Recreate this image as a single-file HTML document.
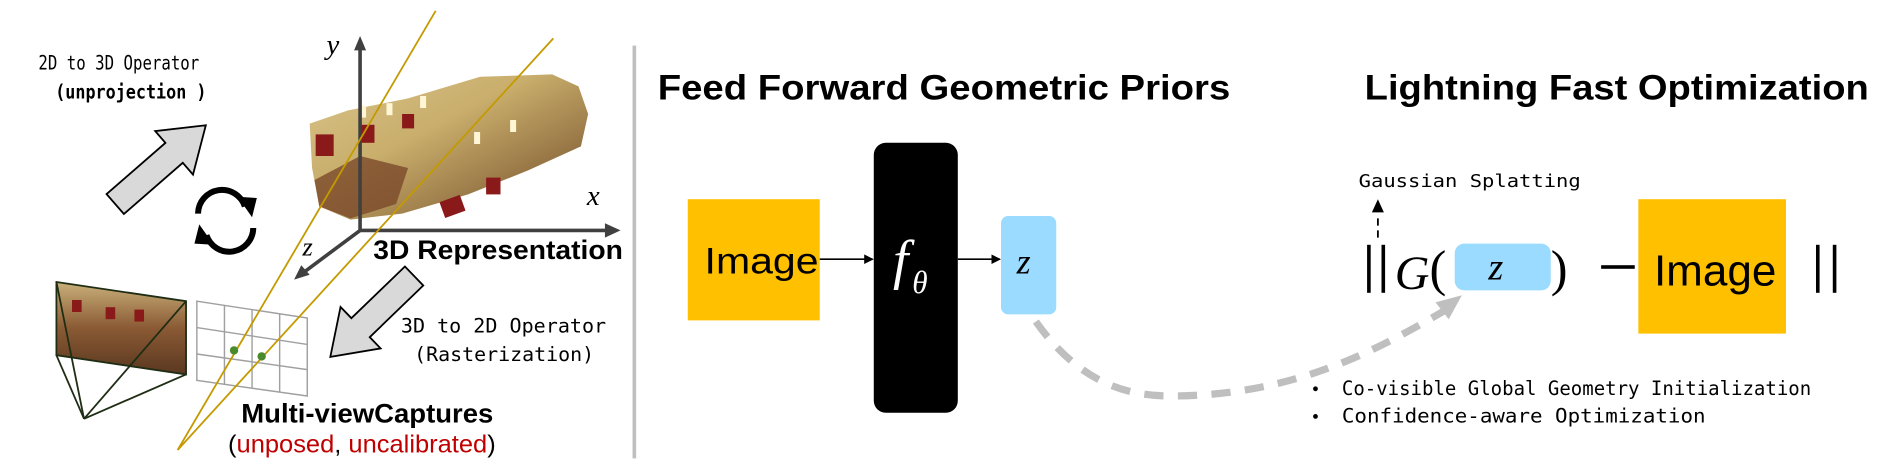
<!DOCTYPE html>
<html><head><meta charset="utf-8"><style>
html,body{margin:0;padding:0;background:#fff;}
svg{display:block;}
.mono{font-family:"DejaVu Sans Mono","Liberation Mono",monospace;}
.sans{font-family:"Liberation Sans",sans-serif;}
.serif{font-family:"Liberation Serif","DejaVu Serif",serif;font-style:italic;}
</style></head><body>
<svg width="1882" height="474" viewBox="0 0 1568 395" preserveAspectRatio="none" xmlns="http://www.w3.org/2000/svg">
<defs>
<linearGradient id="mesh" x1="0" y1="0" x2="1" y2="1">
<stop offset="0" stop-color="#d8c48a"/>
<stop offset="0.4" stop-color="#c9ae6c"/>
<stop offset="0.7" stop-color="#9b7a48"/>
<stop offset="1" stop-color="#6b4426"/>
</linearGradient>
<linearGradient id="photo" x1="0" y1="0" x2="0" y2="1">
<stop offset="0" stop-color="#c9b07a"/>
<stop offset="0.5" stop-color="#8a5a34"/>
<stop offset="1" stop-color="#5a3820"/>
</linearGradient>
<marker id="ah" markerWidth="8" markerHeight="8" refX="7" refY="4" orient="auto" markerUnits="userSpaceOnUse"><path d="M0,0 L8,4 L0,8 z" fill="#000"/></marker>
</defs>

<text class="mono" x="32" y="58" font-size="16" textLength="134" lengthAdjust="spacingAndGlyphs">2D to 3D Operator</text>
<text class="mono" x="46" y="82" font-size="16" font-weight="bold" textLength="126" lengthAdjust="spacingAndGlyphs">(unprojection )</text>

<polygon points="258,103 290,92 340,82 400,64 460,62 482,72 490,95 484,122 440,142 390,162 335,178 292,183 266,172 260,140" fill="url(#mesh)"/>
<polygon points="262,150 300,130 340,140 330,170 292,182 266,172" fill="#7a4a2a" opacity="0.8"/>
<g fill="#8a1a1a">
<rect x="263" y="112" width="15" height="18"/><rect x="300" y="104" width="12" height="15"/>
<rect x="335" y="95" width="10" height="12"/><rect x="368" y="165" width="18" height="14" transform="rotate(-20 377 172)"/>
<rect x="405" y="148" width="12" height="14"/>
</g>
<g fill="#fff6d6"><rect x="300" y="88" width="5" height="10"/><rect x="322" y="86" width="5" height="10"/><rect x="350" y="80" width="5" height="10"/><rect x="395" y="110" width="5" height="10"/><rect x="425" y="100" width="5" height="10"/></g>

<g stroke="#404040" stroke-width="3" fill="none">
<line x1="300" y1="192" x2="300" y2="40"/>
<line x1="300" y1="192" x2="505" y2="192"/>
<line x1="300" y1="192" x2="253" y2="227"/>
</g>
<polygon points="300,30 295,42 305,42" fill="#404040"/>
<polygon points="517,192 504,186 504,198" fill="#404040"/>
<polygon points="245,233 251,221 258,229" fill="#404040"/>
<text class="serif" x="272" y="45" font-size="24">y</text>
<text class="serif" x="489" y="171" font-size="24">x</text>
<text class="serif" x="252" y="213" font-size="22">z</text>

<g fill="none" stroke="#000" stroke-width="5">
<path d="M165,178 A20,20 0 0 1 204,172"/>
<path d="M211,190 A20,20 0 0 1 172,196"/>
</g>
<polygon points="198,164 214,165 210,181" fill="#000"/>
<polygon points="178,204 162,203 166,187" fill="#000"/>

<g transform="translate(96,170) rotate(-41)">
<polygon points="0,-11 65,-11 65,-24 100,0 65,24 65,11 0,11" fill="#d9d9d9" stroke="#000" stroke-width="1.5"/>
</g>
<g transform="translate(345,230) rotate(136)">
<polygon points="0,-11 62,-11 62,-24 97,0 62,24 62,11 0,11" fill="#d9d9d9" stroke="#000" stroke-width="1.5"/>
</g>

<text class="sans" x="311" y="216" font-size="22" font-weight="bold" textLength="208" lengthAdjust="spacingAndGlyphs">3D Representation</text>
<text class="mono" x="334" y="277" font-size="16" textLength="171" lengthAdjust="spacingAndGlyphs">3D to 2D Operator</text>
<text class="mono" x="345" y="301" font-size="16" textLength="150" lengthAdjust="spacingAndGlyphs">(Rasterization)</text>

<polygon points="47,235 155,251 155,312 47,296" fill="url(#photo)"/>
<g fill="#8a1a1a"><rect x="60" y="250" width="8" height="10"/><rect x="88" y="256" width="8" height="10"/><rect x="112" y="258" width="8" height="10"/></g>
<polygon points="47,235 155,251 155,312 47,296" fill="none" stroke="#1f2d14" stroke-width="1.5"/>
<g stroke="#1f2d14" stroke-width="1.5">
<line x1="70" y1="349" x2="47" y2="235"/><line x1="70" y1="349" x2="155" y2="251"/>
<line x1="70" y1="349" x2="155" y2="312"/><line x1="70" y1="349" x2="47" y2="296"/>
</g>

<g stroke="#a0a0a0" stroke-width="1.2" fill="none">
<polygon points="164,251 256,265 256,330 164,317"/>
<line x1="187" y1="254.5" x2="187" y2="320"/><line x1="210" y1="258" x2="210" y2="323.5"/><line x1="233" y1="261.5" x2="233" y2="327"/>
<line x1="164" y1="273" x2="256" y2="287"/><line x1="164" y1="295" x2="256" y2="308"/>
</g>

<g stroke="#c49a00" stroke-width="1.5">
<line x1="363" y1="9" x2="148" y2="375"/>
<line x1="461" y1="32" x2="148" y2="375"/>
</g>
<circle cx="195" cy="292" r="3.5" fill="#4a8a2a"/>
<circle cx="218" cy="297" r="3.5" fill="#4a8a2a"/>

<text class="sans" x="201" y="352" font-size="22" font-weight="bold" textLength="210" lengthAdjust="spacingAndGlyphs">Multi-viewCaptures</text>
<text class="sans" x="190" y="377" font-size="21" textLength="223" lengthAdjust="spacingAndGlyphs"><tspan fill="#000">(</tspan><tspan fill="#c00000">unposed</tspan><tspan fill="#000">, </tspan><tspan fill="#c00000">uncalibrated</tspan><tspan fill="#000">)</tspan></text>

<rect x="527" y="38" width="3" height="344" fill="#bfbfbf"/>

<text class="sans" x="548" y="83" font-size="29" font-weight="bold" textLength="477" lengthAdjust="spacingAndGlyphs">Feed Forward Geometric Priors</text>
<rect x="573" y="166" width="110" height="101" fill="#ffc000"/>
<text class="sans" x="587" y="228" font-size="31" textLength="95" lengthAdjust="spacingAndGlyphs">Image</text>
<line x1="683" y1="216" x2="727" y2="216" stroke="#000" stroke-width="1.3" marker-end="url(#ah)"/>
<rect x="728" y="119" width="70" height="225" rx="10" fill="#000"/>
<text class="serif" x="744" y="232" font-size="46" fill="#fff">f</text>
<text class="serif" x="760" y="244" font-size="26" fill="#fff">θ</text>
<line x1="798" y1="216" x2="833" y2="216" stroke="#000" stroke-width="1.3" marker-end="url(#ah)"/>
<rect x="834" y="180" width="46" height="82" rx="6" fill="#9bdbff"/>
<text class="serif" x="847" y="228" font-size="30">z</text>

<path d="M863,268 C900,320 940,330 975,330 C1080,330 1150,290 1205,258" fill="none" stroke="#bfbfbf" stroke-width="6" stroke-dasharray="16 12"/>
<polygon points="1218,246 1196,252 1207,266" fill="#bfbfbf"/>

<text class="sans" x="1137" y="83" font-size="29" font-weight="bold" textLength="420" lengthAdjust="spacingAndGlyphs">Lightning Fast Optimization</text>
<text class="mono" x="1132" y="156" font-size="15" textLength="185" lengthAdjust="spacingAndGlyphs">Gaussian Splatting</text>
<line x1="1148" y1="198" x2="1148" y2="178" stroke="#000" stroke-width="1.5" stroke-dasharray="6 4"/>
<polygon points="1148,166 1143,177 1153,177" fill="#000"/>
<rect x="1139" y="204" width="3" height="40" fill="#000"/>
<rect x="1151" y="204" width="3" height="40" fill="#000"/>
<text class="serif" x="1162" y="241" font-size="40">G</text>
<text font-family="Liberation Serif,serif" x="1191" y="238" font-size="42">(</text>
<rect x="1212" y="203" width="80" height="39" rx="8" fill="#9bdbff"/>
<text class="serif" x="1240" y="233" font-size="32">z</text>
<text font-family="Liberation Serif,serif" x="1292" y="238" font-size="42">)</text>
<rect x="1334" y="221" width="28" height="3" fill="#000"/>
<rect x="1365" y="166" width="123" height="112" fill="#ffc000"/>
<text class="sans" x="1378" y="238" font-size="36" textLength="102" lengthAdjust="spacingAndGlyphs">Image</text>
<rect x="1513" y="204" width="3" height="40" fill="#000"/>
<rect x="1527" y="204" width="3" height="40" fill="#000"/>

<circle cx="1096" cy="324" r="2" fill="#000"/>
<circle cx="1096" cy="347" r="2" fill="#000"/>
<text class="mono" x="1118" y="329" font-size="16" textLength="391" lengthAdjust="spacingAndGlyphs">Co-visible Global Geometry Initialization</text>
<text class="mono" x="1118" y="352" font-size="16" textLength="303" lengthAdjust="spacingAndGlyphs">Confidence-aware Optimization</text>
</svg>
</body></html>
